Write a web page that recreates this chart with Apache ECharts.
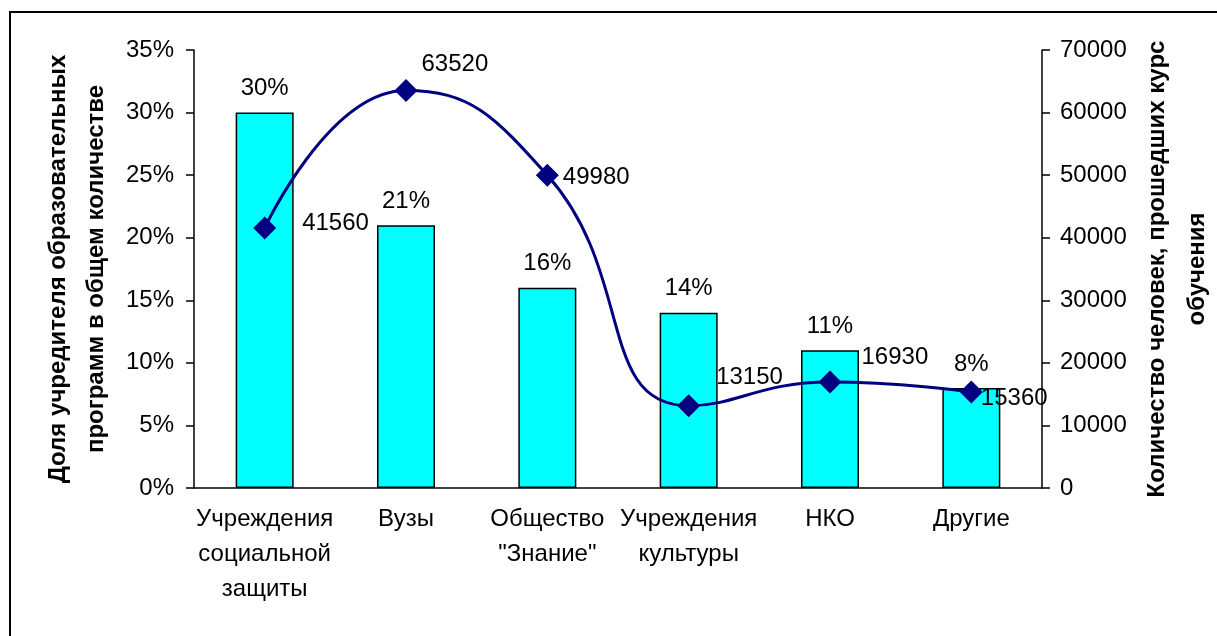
<!DOCTYPE html>
<html>
<head>
<meta charset="utf-8">
<script src="https://cdn.jsdelivr.net/npm/echarts@6/dist/echarts.min.js"></script>
<style>
  html, body { margin: 0; padding: 0; background: #fff; }
  #chart { width: 1217px; height: 636px; }
</style>
</head>
<body>
<div id="chart"></div>
<script>
var categories = ['Учреждения\nсоциальной\nзащиты', 'Вузы', 'Общество\n"Знание"', 'Учреждения\nкультуры', 'НКО', 'Другие'];
var shareValues = [30, 21, 16, 14, 11, 8];
var peopleValues = [41560, 63520, 49980, 13150, 16930, 15360];
var leftTitle = 'Доля учредителя образовательных\nпрограмм в общем количестве';
var rightTitle = 'Количество человек, прошедших курс\nобучения';

// label nudges so they sit where Excel put them
var labelOffsets = [[21, -5], [-1, -26], [-1, 2], [11, -28], [15, -25], [-7, 6]];

var font = "'Liberation Sans', Arial, sans-serif";
var myChart = echarts.init(document.getElementById('chart'));

var lineData = peopleValues.map(function (v, i) {
  return { value: v, label: { offset: labelOffsets[i] } };
});

var option = {
  animation: false,
  backgroundColor: '#fff',
  textStyle: { fontFamily: font, color: '#000' },
  graphic: [{
    type: 'rect',
    shape: { x: 10, y: 12, width: 1400, height: 800 },
    style: { fill: 'none', stroke: '#000', lineWidth: 2 }
  }],
  grid: { left: 194, right: 175, top: 50, bottom: 148, outerBoundsMode: 'none' },
  xAxis: {
    type: 'category',
    data: categories,
    axisLine: { lineStyle: { color: '#000', width: 1.5 } },
    axisTick: { length: 8, lineStyle: { color: '#000', width: 1.5 } },
    axisLabel: {
      interval: 0, fontSize: 24, color: '#000', fontFamily: font,
      lineHeight: 35, margin: 14
    }
  },
  yAxis: [
    {
      type: 'value',
      min: 0, max: 35, interval: 5,
      name: leftTitle,
      nameLocation: 'middle',
      nameGap: 79,
      nameRotate: 90,
      nameTextStyle: { fontSize: 24, fontWeight: 'bold', color: '#000', fontFamily: font, lineHeight: 38 },
      axisLine: { show: true, lineStyle: { color: '#000', width: 1.5 } },
      axisTick: { show: true, length: 8, lineStyle: { color: '#000', width: 1.5 } },
      axisLabel: { formatter: '{value}%', fontSize: 24, color: '#000', fontFamily: font, margin: 20 },
      splitLine: { show: false }
    },
    {
      type: 'value',
      min: 0, max: 70000, interval: 10000,
      name: rightTitle,
      nameLocation: 'middle',
      nameGap: 86,
      nameRotate: 90,
      nameTextStyle: { fontSize: 24, fontWeight: 'bold', color: '#000', fontFamily: font, lineHeight: 40 },
      axisLine: { show: true, lineStyle: { color: '#000', width: 1.5 } },
      axisTick: { show: true, length: 8, lineStyle: { color: '#000', width: 1.5 } },
      axisLabel: {
        formatter: function (v) { return String(v); },
        fontSize: 24, color: '#000', fontFamily: font, margin: 18
      },
      splitLine: { show: false }
    }
  ],
  series: [
    {
      name: 'Доля',
      type: 'bar',
      data: shareValues,
      barWidth: 58,
      itemStyle: { color: '#00FFFF', borderColor: '#000', borderWidth: 1.5 },
      label: {
        show: true, position: 'top', distance: 12,
        formatter: '{c}%', fontSize: 24, color: '#000', fontFamily: font
      }
    },
    {
      name: 'Количество',
      type: 'line',
      yAxisIndex: 1,
      data: lineData,
      smooth: 0.5,
      symbol: 'diamond',
      symbolSize: 23,
      lineStyle: { color: '#000080', width: 3 },
      itemStyle: { color: '#000080' },
      label: {
        show: true, position: 'right', distance: 5,
        fontSize: 24, color: '#000', fontFamily: font
      },
      z: 3
    }
  ]
};

option && myChart.setOption(option);
</script>
</body>
</html>
